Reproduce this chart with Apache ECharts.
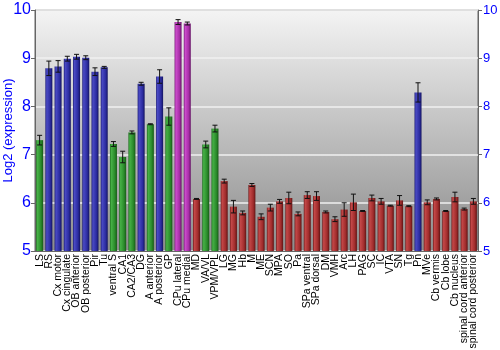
<!DOCTYPE html>
<html><head><meta charset="utf-8">
<script src="https://cdn.jsdelivr.net/npm/echarts@6/dist/echarts.min.js"></script>
<style>html,body{margin:0;padding:0;background:#fff}#c{width:500px;height:350px}</style>
</head><body><div id="c"></div>
<script>
const categories = ["LS","RS","Cx motor","Cx cingulate","OB anterior","OB posterior","Pir","Tu","ventral S","CA1","CA2/CA3","DG","A anterior","A posterior","GP","CPu lateral","CPu medial","MD","VA/VL","VPM/VPL","LG","MG","Hb","M","ME","SCN","MPA","SO","Pa","SPa ventral","SPa dorsal","DM","VMH","Arc","LH","PAG","SC","IC","VTA","SN","Tg","Pn","MVe","Cb vermis","Cb lobe","Cb nucleus","spinal cord anterior","spinal cord posterior"];
const values = [7.30,8.79,8.83,8.99,9.03,9.01,8.72,8.81,7.22,6.95,7.46,8.47,7.63,8.62,7.79,9.75,9.72,6.08,7.21,7.54,6.45,5.92,5.79,6.37,5.71,5.90,6.03,6.10,5.77,6.16,6.14,5.81,5.66,5.86,6.01,5.83,6.10,6.03,5.94,6.05,5.93,8.29,6.01,6.08,5.83,6.12,5.87,6.03];
const errors = [0.10,0.15,0.12,0.05,0.05,0.04,0.08,0.02,0.05,0.12,0.03,0.03,0.01,0.14,0.18,0.05,0.03,0.01,0.07,0.07,0.04,0.13,0.04,0.03,0.06,0.07,0.04,0.12,0.04,0.07,0.09,0.02,0.05,0.14,0.17,0.01,0.06,0.06,0.01,0.10,0.01,0.20,0.05,0.02,0.01,0.10,0.02,0.06];
const groups = ["g","b","b","b","b","b","b","b","g","g","g","b","g","b","g","m","m","r","g","g","r","r","r","r","r","r","r","r","r","r","r","r","r","r","r","r","r","r","r","r","r","b","r","r","r","r","r","r"];
const yTicks = [5,6,7,8,9,10];

const palette = {
  g: ["#1c6e1c","#46b046","#2a8a2a","#165a16"],
  b: ["#1c1c78","#4a4ac4","#2c2ca0","#141460"],
  m: ["#7a1c7a","#cc4ccc","#a62ea6","#661466"],
  r: ["#701c1c","#c44848","#a02c2c","#601414"]
};
function grad(k){
  const c = palette[k];
  return new echarts.graphic.LinearGradient(0,0,1,0,[
    {offset:0,color:c[0]},{offset:0.2,color:c[1]},{offset:0.7,color:c[2]},{offset:1,color:c[3]}
  ]);
}
const barData = values.map((v,i)=>({value:v,itemStyle:{color:grad(groups[i])}}));
const errData = values.map((v,i)=>[i,v-errors[i],v+errors[i]]);

const chart = echarts.init(document.getElementById('c'),null,{renderer:'canvas'});
const FONT = 'Liberation Sans';
const fmt = v=>yTicks.includes(v)?String(v):'';
chart.setOption({
  animation:false,
  grid:{left:35,right:22,top:10,bottom:99,containLabel:false,outerBoundsMode:'none',show:true,borderColor:'#666',borderWidth:1,
    backgroundColor:new echarts.graphic.LinearGradient(0,0,0,1,[{offset:0,color:'#f4f4f4'},{offset:1,color:'#8c8c8c'}])},
  xAxis:{type:'category',data:categories,
    axisLine:{lineStyle:{color:'#666'}},axisTick:{show:false},
    axisLabel:{interval:0,rotate:90,fontSize:10.5,color:'#000',fontFamily:FONT,margin:3}},
  yAxis:[
    {type:'value',min:5,max:10,interval:1,position:'left',
      name:'Log2 (expression)',nameLocation:'middle',nameGap:20,nameMoveOverlap:false,
      nameTextStyle:{color:'#0000ff',fontSize:13,fontFamily:FONT},
      axisLine:{show:true,lineStyle:{color:'#666'}},
      axisTick:{show:true,length:4,lineStyle:{color:'#666'}},
      axisLabel:{color:'#0000ff',fontSize:16,fontFamily:FONT,margin:4,formatter:fmt},
      splitLine:{show:true,lineStyle:{color:'#f0f0f0',width:1.5}}},
    {type:'value',min:5,max:10,interval:1,position:'right',
      axisLine:{show:true,lineStyle:{color:'#666'}},
      axisTick:{show:true,length:4,lineStyle:{color:'#666'}},
      axisLabel:{color:'#0000ff',fontSize:13,fontFamily:FONT,margin:5,formatter:fmt},
      splitLine:{show:false}}
  ],
  series:[
    {type:'bar',data:barData,barWidth:'76%',yAxisIndex:0},
    {type:'custom',yAxisIndex:0,data:errData,z:10,
      renderItem:function(params,api){
        const x=api.value(0);
        const lo=api.coord([x,api.value(1)]);
        const hi=api.coord([x,api.value(2)]);
        const hw=2.5;
        const st={stroke:'#111',lineWidth:1};
        return {type:'group',children:[
          {type:'line',shape:{x1:hi[0],y1:hi[1],x2:lo[0],y2:lo[1]},style:st},
          {type:'line',shape:{x1:hi[0]-hw,y1:hi[1],x2:hi[0]+hw,y2:hi[1]},style:st},
          {type:'line',shape:{x1:lo[0]-hw,y1:lo[1],x2:lo[0]+hw,y2:lo[1]},style:st}
        ]};
      }}
  ]
});
</script></body></html>
